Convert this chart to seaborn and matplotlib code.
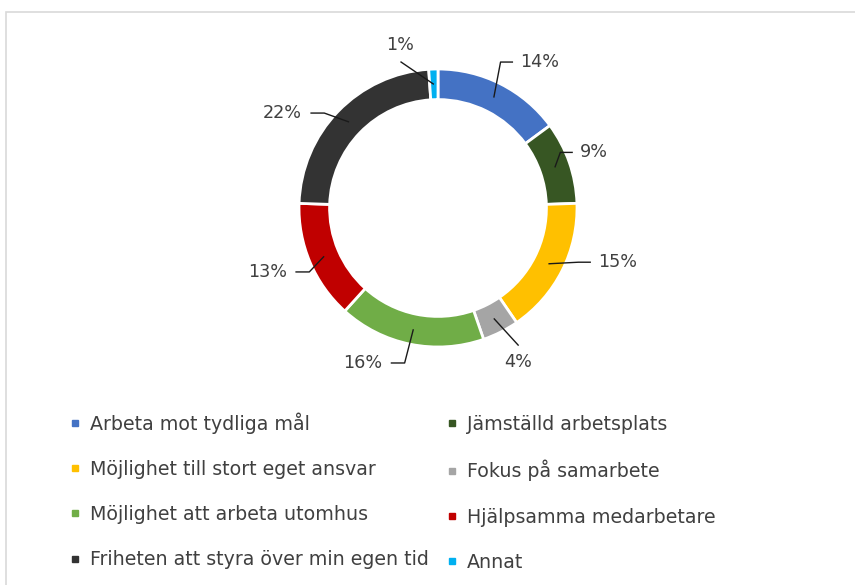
import numpy as np
import matplotlib
matplotlib.use("Agg")
import matplotlib.pyplot as plt
import seaborn as sns
from matplotlib.lines import Line2D
from matplotlib.patches import Rectangle

categories = ["Arbeta mot tydliga mål", "Jämställd arbetsplats",
              "Möjlighet till stort eget ansvar", "Fokus på samarbete",
              "Möjlighet att arbeta utomhus", "Hjälpsamma medarbetare",
              "Friheten att styra över min egen tid", "Annat"]
shares = [14, 9, 15, 4, 16, 13, 22, 1]
colors = ["#4472C4", "#375623", "#FFC000", "#A5A5A5",
          "#70AD47", "#C00000", "#333333", "#00B0F0"]

# where each percentage label sits (units of outer radius) and how it is anchored
label_pos = [(0.59, 1.05), (1.02, 0.40), (1.15, -0.39), (0.58, -1.11),
             (-0.40, -1.115), (-1.086, -0.46), (-0.978, 0.683), (-0.27, 1.173)]
label_ha = ["left", "left", "left", "center", "right", "right", "right", "center"]

sns.set_theme(style="white")
plt.rcParams["font.family"] = ["DejaVu Sans"]
txt_col = "#404040"

fig = plt.figure(figsize=(8.55, 5.85), dpi=100)
fig.patch.set_facecolor("white")

# pie axes: centre at (438, 208) px, outer radius 139 px
W, H = 855, 585
r_px = 139
ax = fig.add_axes([(438 - 2 * r_px) / W, (H - 208 - 200) / H, 4 * r_px / W, 400 / H])
pal = sns.color_palette(colors)
wedges, _ = ax.pie(shares, colors=pal, startangle=90, counterclock=False, radius=1,
                   wedgeprops=dict(width=0.22, edgecolor="white", linewidth=2))
ax.set_xlim(-2, 2)
ax.set_ylim(-200 / r_px, 200 / r_px)
ax.set_aspect("auto")
ax.axis("off")

for w, v, (tx, ty), ha in zip(wedges, shares, label_pos, label_ha):
    mid = np.deg2rad((w.theta1 + w.theta2) / 2)
    axp, ayp = 0.89 * np.cos(mid), 0.89 * np.sin(mid)
    if ha == "left":
        xs = [axp, tx - 0.14, tx - 0.05]
        ys = [ayp, ty, ty]
    elif ha == "right":
        xs = [axp, tx + 0.16, tx + 0.06]
        ys = [ayp, ty, ty]
    else:
        off = 0.12 if ty < 0 else -0.12
        xs = [axp, tx]
        ys = [ayp, ty + off]
    ax.plot(xs, ys, color="#1a1a1a", lw=1, solid_capstyle="butt", clip_on=False)
    ax.text(tx, ty, f"{v}%", ha=ha, va="center", fontsize=12.7, color=txt_col)

# legend laid out row by row like the original (two columns)
handles = [Line2D([], [], marker="s", linestyle="none", markersize=5,
                  markerfacecolor=c, markeredgecolor=c) for c in colors]
order = [0, 2, 4, 6, 1, 3, 5, 7]
fig.legend([handles[i] for i in order], [categories[i] for i in order],
           loc="upper left", bbox_to_anchor=(70 / W, 1 - 412 / H), ncol=2,
           frameon=False, fontsize=13.7, labelcolor=txt_col,
           handlelength=0.55, handletextpad=0.5, labelspacing=1.38,
           columnspacing=0.95, borderaxespad=0, borderpad=0)

# light chart-area border (top and left visible)
fig.patches.append(Rectangle((6 / W, -0.05), 1.0, 1 - 12 / H + 0.05,
                             transform=fig.transFigure, fill=False,
                             edgecolor="#D9D9D9", lw=1.2))

fig.savefig("out.png", dpi=100)
